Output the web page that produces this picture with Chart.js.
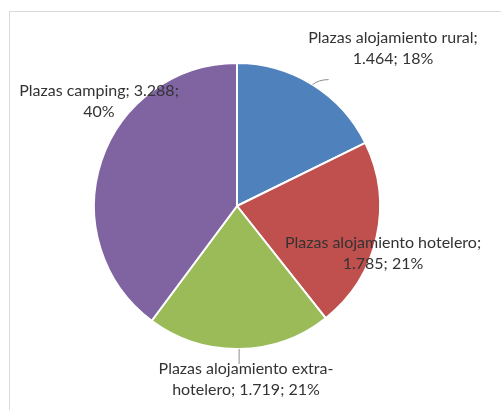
<!DOCTYPE html>
<html>
<head>
<meta charset="utf-8">
<script src="https://cdn.jsdelivr.net/npm/chart.js@4"></script>
<style>
  html, body { margin: 0; padding: 0; background: #fff; }
  #wrap { width: 501px; height: 410px; position: relative; }
</style>
</head>
<body>
<div id="wrap"><canvas id="pie"></canvas></div>
<script>
// Data
const categories = ['Plazas alojamiento rural', 'Plazas alojamiento hotelero', 'Plazas alojamiento extra-hotelero', 'Plazas camping'];
const values = [1464, 1785, 1719, 3288];
const percents = [18, 21, 21, 40];
const colors = ['#4F81BD', '#C0504D', '#9BBB59', '#8064A2'];

// label placement (centre x, first line y) and how the text wraps
const labelPos = [[393, 38], [383, 243], [246, 369], [99, 91]];

function fmt(n) {
    return n.toString().replace(/\B(?=(\d{3})+(?!\d))/g, '.');
}

function labelLines(i) {
    const v = fmt(values[i]), p = percents[i] + '%';
    if (i === 0) return [categories[0] + ';', v + '; ' + p];
    if (i === 1) return [categories[1] + ';', v + '; ' + p];
    if (i === 2) return ['Plazas alojamiento extra-', 'hotelero; ' + v + '; ' + p];
    return [categories[3] + '; ' + v + ';', p];
}

// gray frame around the chart, like the spreadsheet chart area
const framePlugin = {
    id: 'frame',
    beforeDraw(chart) {
        const ctx = chart.ctx;
        ctx.save();
        ctx.strokeStyle = '#d9d9d9';
        ctx.lineWidth = 1;
        ctx.strokeRect(9.5, 11.5, 600, 600);
        ctx.restore();
    }
};

// data labels with small leader lines
const labelPlugin = {
    id: 'pieLabels',
    afterDraw(chart) {
        const ctx = chart.ctx;
        const arcs = chart.getDatasetMeta(0).data;
        ctx.save();

        // leader lines for the labels that sit away from their slice
        ctx.strokeStyle = '#8c8c8c';
        ctx.lineWidth = 1;
        [0, 2].forEach(i => {
            const a = arcs[i];
            const mid = (a.startAngle + a.endAngle) / 2;
            const x0 = a.x + Math.cos(mid) * a.outerRadius;
            const y0 = a.y + Math.sin(mid) * a.outerRadius;
            ctx.beginPath();
            ctx.moveTo(x0, y0);
            if (i === 0) {
                ctx.quadraticCurveTo(x0 + 6, y0 - 5, x0 + 16, y0 - 5);
            } else {
                ctx.lineTo(x0, y0 + 15);
            }
            ctx.stroke();
        });

        ctx.fillStyle = '#333';
        ctx.font = '16px Lato';
        ctx.textAlign = 'center';
        ctx.textBaseline = 'middle';
        labelPos.forEach((pos, i) => {
            labelLines(i).forEach((line, k) => {
                ctx.fillText(line, pos[0], pos[1] + k * 21);
            });
        });
        ctx.restore();
    }
};

new Chart(document.getElementById('pie'), {
    type: 'pie',
    data: {
        labels: categories,
        datasets: [{
            data: values,
            backgroundColor: colors,
            borderColor: '#fff',
            borderWidth: 2
        }]
    },
    options: {
        responsive: true,
        maintainAspectRatio: false,
        animation: false,
        layout: { padding: { left: 93, right: 120, top: 62, bottom: 60 } },
        plugins: {
            legend: { display: false },
            tooltip: { enabled: false }
        }
    },
    plugins: [framePlugin, labelPlugin]
});
</script>
</body>
</html>
